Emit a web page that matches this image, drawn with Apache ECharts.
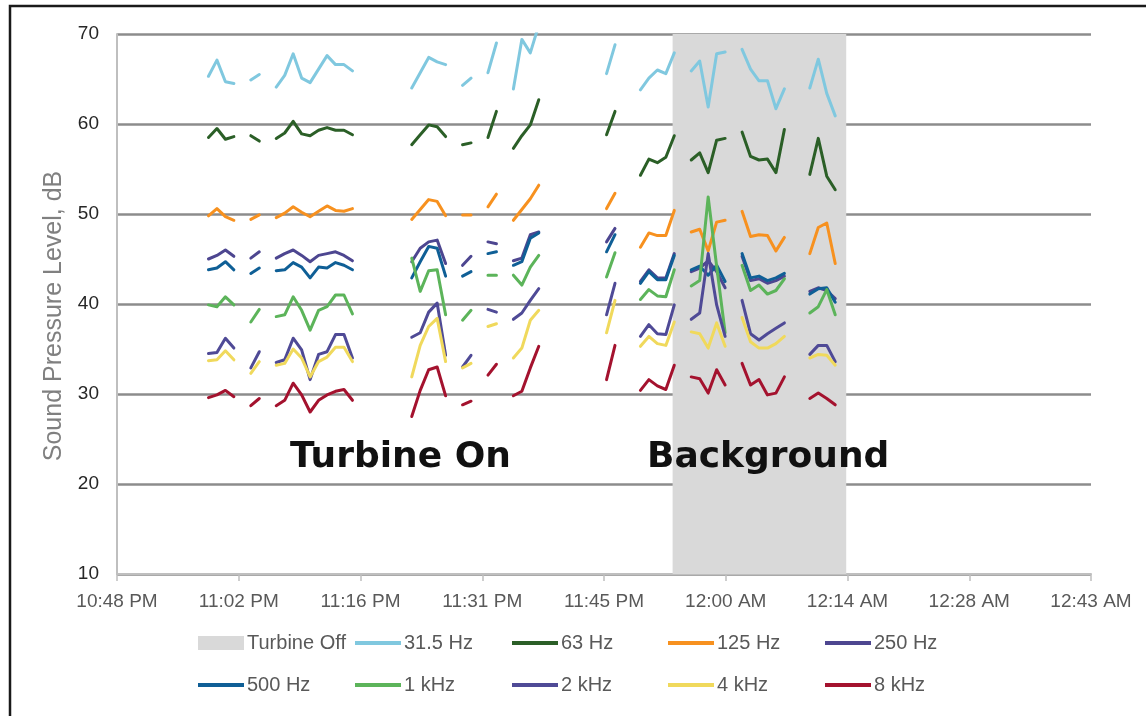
<!DOCTYPE html>
<html><head><meta charset="utf-8">
<script src="https://cdn.jsdelivr.net/npm/echarts@6/dist/echarts.min.js"></script>
<style>html,body{margin:0;padding:0;background:#fff}#c{width:1146px;height:716px}</style>
</head><body><div id="c"></div>
<script>
// x tick labels (axis runs 10:48 PM .. 12:43 AM, value = minutes after 10:48 PM)
const xTickLabels = ['10:48 PM','11:02 PM','11:16 PM','11:31 PM','11:45 PM','12:00 AM','12:14 AM','12:28 AM','12:43 AM'];
const xTickStep = 14.375;
const xMax = 115;
// sample times, minutes after 10:48 PM
const sampleMinutes = [10.8,11.8,12.8,13.8,14.8,15.8,16.8,17.8,18.8,19.8,20.8,21.8,22.8,23.8,24.8,25.8,26.8,27.8,28.8,29.8,30.8,31.8,32.8,33.8,34.8,35.8,36.8,37.8,38.8,39.8,40.8,41.8,42.8,43.8,44.8,45.8,46.8,47.8,48.8,49.8,50.8,51.8,52.8,53.8,54.8,55.8,56.8,57.8,58.8,59.8,60.8,61.8,62.8,63.8,64.8,65.8,66.8,67.8,68.8,69.8,70.8,71.8,72.8,73.8,74.8,75.8,76.8,77.8,78.8,79.8,80.8,81.8,82.8,83.8,84.8];
// turbine-off period (minutes after 10:48 PM)
const turbineOff = [65.6, 86.1];

const hz31_5 = [65.3,67.1,64.7,64.5,null,64.9,65.5,null,
 64.1,65.4,67.8,65.1,64.6,66.1,67.6,66.6,66.6,65.9,
 null,null,null,null,null,null,
 64.0,65.7,67.4,66.9,66.6,null,64.3,65.1,null,65.7,69.0,null,63.9,69.4,67.9,71.0,
 null,null,null,null,null,null,null,
 65.6,68.8,null,null,63.8,65.1,66.0,65.6,67.9,null,65.9,67.0,61.9,67.8,68.0,null,
 68.3,66.1,64.8,64.8,61.7,63.9,null,null,64.0,67.2,63.4,60.9];
const hz63 = [58.5,59.5,58.3,58.6,null,58.7,58.1,null,
 58.4,59.0,60.3,58.9,58.7,59.3,59.6,59.3,59.3,58.8,
 null,null,null,null,null,null,
 57.7,58.8,59.9,59.7,58.6,null,57.7,57.9,null,58.5,61.4,null,57.3,58.7,59.9,62.7,
 null,null,null,null,null,null,null,
 58.8,61.4,null,null,54.3,56.1,55.7,56.3,58.7,null,56.0,56.8,54.6,58.2,58.4,null,
 59.1,56.4,56.0,56.1,54.6,59.4,null,null,54.4,58.4,54.2,52.7];
const hz125 = [49.8,50.6,49.7,49.3,null,49.4,49.9,null,
 49.6,50.1,50.8,50.2,49.7,50.3,50.9,50.4,50.3,50.6,
 null,null,null,null,null,null,
 49.4,50.5,51.6,51.4,49.8,null,49.9,49.9,null,50.8,52.2,null,49.3,50.5,51.7,53.2,
 null,null,null,null,null,null,null,
 50.6,52.3,null,null,46.3,47.9,47.6,47.6,50.4,null,48.0,48.3,45.9,49.1,49.3,null,
 50.3,47.5,47.7,47.6,45.9,47.4,null,null,45.6,48.5,49.0,44.5];
const hz250 = [45.0,45.4,46.0,45.3,null,45.1,45.8,null,
 45.1,45.6,46.0,45.4,44.7,45.4,45.6,45.8,45.4,44.8,
 null,null,null,null,null,null,
 44.7,46.2,46.9,47.1,44.5,null,44.3,45.3,null,46.9,46.7,null,44.8,45.1,47.7,48.0,
 null,null,null,null,null,null,null,
 46.9,48.4,null,null,42.5,43.8,42.9,42.9,45.6,null,43.6,44.0,44.8,43.6,41.8,null,
 45.3,42.6,42.8,42.3,42.6,43.1,null,null,41.4,41.8,41.5,40.6];
const hz500 = [43.8,44.0,44.7,43.8,null,43.4,44.0,null,
 43.7,43.8,44.6,44.1,42.9,44.1,44.0,44.6,44.3,43.8,
 null,null,null,null,null,null,
 42.9,44.7,46.4,46.2,43.1,null,43.1,43.6,null,45.6,45.8,null,44.3,44.7,47.3,47.9,
 null,null,null,null,null,null,null,
 45.8,47.7,null,null,42.3,43.6,42.7,42.7,45.4,null,43.8,44.2,43.2,44.3,42.5,null,
 45.6,42.9,43.1,42.6,42.9,43.4,null,null,41.1,41.7,41.8,40.2];
const khz1 = [39.9,39.7,40.8,39.9,null,38.0,39.4,null,
 38.6,38.8,40.8,39.3,37.1,39.3,39.7,41.0,41.0,38.9,
 null,null,null,null,null,null,
 45.1,41.4,43.7,43.8,38.8,null,38.2,39.3,null,43.2,43.2,null,43.2,42.1,44.1,45.4,
 null,null,null,null,null,null,null,
 43.0,45.7,null,null,40.5,41.6,40.9,40.8,43.8,null,42.0,42.6,51.9,44.2,36.8,null,
 44.3,41.5,42.1,41.1,41.5,42.8,null,null,39.0,39.7,41.6,38.8];
const khz2 = [34.5,34.6,36.2,35.1,null,32.9,34.7,null,
 33.5,33.8,36.2,34.9,31.6,34.4,34.7,36.6,36.6,34.0,
 null,null,null,null,null,null,
 36.3,36.8,39.1,40.1,34.3,null,33.0,34.3,null,39.4,39.1,null,38.3,39.0,40.4,41.7,
 null,null,null,null,null,null,null,
 38.8,42.3,null,null,36.4,37.7,36.7,36.6,39.9,null,38.3,39.0,45.6,39.9,36.4,null,
 40.4,36.7,36.0,36.7,37.3,37.9,null,null,34.4,35.4,35.4,33.6];
const khz4 = [33.7,33.8,34.8,33.8,null,32.3,33.6,null,
 33.2,33.4,35.0,34.0,31.9,33.6,34.1,35.2,35.2,33.6,
 null,null,null,null,null,null,
 31.9,35.4,37.5,38.4,33.6,null,32.9,33.4,null,37.5,37.8,null,34.0,35.1,38.2,39.3,
 null,null,null,null,null,null,null,
 36.8,40.4,null,null,35.3,36.4,35.6,35.4,38.0,null,36.9,36.7,35.1,37.9,35.3,null,
 38.5,35.8,35.1,35.1,35.6,36.4,null,null,34.0,34.4,34.3,33.2];
const khz8 = [29.6,29.9,30.4,29.7,null,28.7,29.5,null,
 28.7,29.3,31.2,29.9,28.0,29.3,29.9,30.3,30.5,29.3,
 null,null,null,null,null,null,
 27.5,30.4,32.7,33.0,29.8,null,28.8,29.2,null,32.1,33.3,null,29.8,30.3,32.9,35.3,
 null,null,null,null,null,null,null,
 31.6,35.4,null,null,30.4,31.6,30.9,30.5,33.2,null,31.9,31.7,30.1,32.7,31.0,null,
 33.4,31.0,31.6,29.9,30.1,31.9,null,null,29.5,30.1,29.5,28.8];

const seriesNames = ['31.5 Hz','63 Hz','125 Hz','250 Hz','500 Hz','1 kHz','2 kHz','4 kHz','8 kHz'];
const seriesValues = [hz31_5, hz63, hz125, hz250, hz500, khz1, khz2, khz4, khz8];
const seriesColors = ['#80c8df','#2b5f27','#f7911f','#4d4690','#0f5f96','#5cb45a','#4f4a96','#f0d95c','#a4122e'];

const FONT = 'Liberation Sans, Arial, sans-serif';
const chart = echarts.init(document.getElementById('c'), null, {renderer: 'canvas'});

const series = [{
  name: 'Turbine Off', type: 'line', data: [], color: '#d9d9d9', z: 1,
  itemStyle: {color: '#d9d9d9'},
  markArea: {silent: true, itemStyle: {color: '#d9d9d9', opacity: 1},
    data: [[{xAxis: turbineOff[0]}, {xAxis: turbineOff[1]}]]}
}];
seriesNames.forEach((n, i) => {
  series.push({
    name: n, type: 'line', symbol: 'none', z: 3, connectNulls: false,
    color: seriesColors[i],
    lineStyle: {width: 3, color: seriesColors[i], join: 'round', cap: 'round'},
    data: sampleMinutes.map((t, j) => [t, seriesValues[i][j] == null ? '-' : seriesValues[i][j]])
  });
});

const legendNames = ['Turbine Off'].concat(seriesNames);
const colX = [198, 355, 512, 668, 825];
const legends = legendNames.map((n, i) => ({
  data: [n], left: colX[i % 5], top: i < 5 ? 633 : 675,
  icon: 'rect', itemWidth: 46, itemHeight: n === 'Turbine Off' ? 14 : 4,
  itemGap: 0, selectedMode: false, padding: 0,
  textStyle: {fontSize: 20, color: '#595959', fontFamily: FONT, padding: [0, 0, 0, -2]}
}));

chart.setOption({
  animation: false,
  backgroundColor: '#fff',
  grid: {left: 117, top: 34, width: 974, height: 540, containLabel: false},
  xAxis: {
    type: 'value', min: 0, max: xMax, interval: xTickStep,
    axisLine: {show: true, lineStyle: {color: '#bfbfbf', width: 2}},
    axisTick: {show: true, length: 7, lineStyle: {color: '#bfbfbf', width: 1.5}},
    splitLine: {show: false},
    axisLabel: {fontSize: 19, color: '#595959', fontFamily: FONT, margin: 18,
      formatter: v => xTickLabels[Math.round(v / xTickStep)] || ''}
  },
  yAxis: {
    type: 'value', min: 10, max: 70, interval: 10,
    name: 'Sound Pressure Level, dB', nameLocation: 'middle', nameGap: 48, nameRotate: 90,
    nameTextStyle: {fontSize: 25, color: '#808080', fontFamily: FONT, padding: [0, 24, 0, 0]},
    axisLine: {show: true, lineStyle: {color: '#bfbfbf', width: 2}},
    axisTick: {show: false},
    splitLine: {show: true, lineStyle: {color: '#8c8c8c', width: 2.5}},
    axisLabel: {fontSize: 19, color: '#262626', fontFamily: FONT, margin: 18}
  },
  legend: legends,
  series: series,
  graphic: [
    {type: 'rect', shape: {x: 10, y: 6, width: 1160, height: 740}, style: {fill: null, stroke: '#1a1a1a', lineWidth: 2.5}, z: 100},
    {type: 'text', left: 290, top: 440, style: {text: 'Turbine On', font: 'bold 36px DejaVu Sans, sans-serif', fill: '#111'}, z: 100},
    {type: 'text', left: 647, top: 440, style: {text: 'Background', font: 'bold 36px DejaVu Sans, sans-serif', fill: '#111'}, z: 100}
  ]
});
</script>
</body></html>
